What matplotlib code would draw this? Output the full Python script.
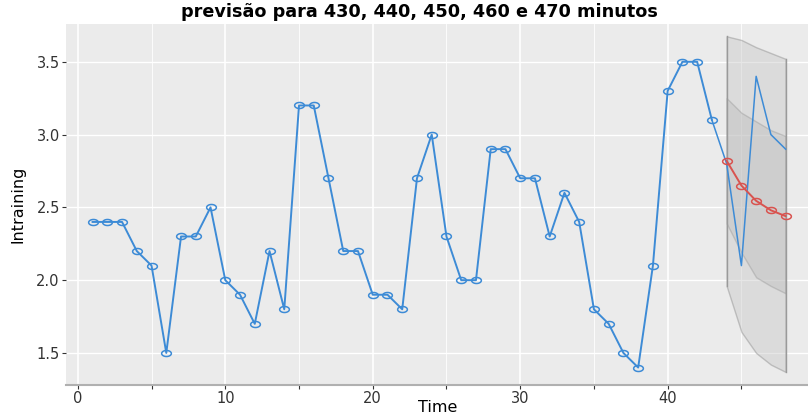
import numpy as np
import matplotlib
matplotlib.use("Agg")
import matplotlib.pyplot as plt
from matplotlib.path import Path

# ---- data ----
t_train = list(range(1, 44))
y_train = [2.4, 2.4, 2.4, 2.2, 2.1, 1.5, 2.3, 2.3, 2.5, 2.0,
           1.9, 1.7, 2.2, 1.8, 3.2, 3.2, 2.7, 2.2, 2.2, 1.9,
           1.9, 1.8, 2.7, 3.0, 2.3, 2.0, 2.0, 2.9, 2.9, 2.7,
           2.7, 2.3, 2.6, 2.4, 1.8, 1.7, 1.5, 1.4, 2.1, 3.3,
           3.5, 3.5, 3.1]
t_test = [43, 44, 45, 46, 47, 48]
y_test = [3.1, 2.8, 2.1, 3.4, 3.0, 2.9]
t_fc = [44, 45, 46, 47, 48]
y_fc = [2.82, 2.65, 2.545, 2.48, 2.44]
lo80 = [2.39, 2.19, 2.02, 1.96, 1.91]
hi80 = [3.25, 3.15, 3.09, 3.03, 2.99]
lo95 = [1.96, 1.645, 1.50, 1.42, 1.37]
hi95 = [3.675, 3.65, 3.60, 3.56, 3.52]
xticks = [0, 10, 20, 30, 40]
yticks = [1.5, 2.0, 2.5, 3.0, 3.5]

blue = '#3d8bd6'
red = '#d9534f'

# ellipse marker (wider than tall)
th = np.linspace(0, 2 * np.pi, 40)
ell = Path(np.column_stack([np.cos(th), 0.62 * np.sin(th)]), closed=True)

fig = plt.figure(figsize=(8.08, 4.15), dpi=100)
ax = fig.add_axes([0.0817, 0.0723, 0.918, 0.870])
ax.set_facecolor('#ebebeb')

ax.set_xlim(-0.8, 49.5)
ax.set_ylim(1.28, 3.76)

# grid
for x in [5, 15, 25, 35, 45]:
    ax.axvline(x, color='white', lw=0.6, zorder=0)
for x in xticks:
    ax.axvline(x, color='white', lw=1.2, zorder=0)
for y in yticks:
    ax.axhline(y, color='white', lw=1.0, zorder=0)

# bands
ax.fill_between(t_fc, lo95, hi95, color='#c8c8c8', alpha=0.45, lw=1.0,
                edgecolor='#8c8c8c', zorder=1)
ax.fill_between(t_fc, lo80, hi80, color='#b8b8b8', alpha=0.35, lw=1.0,
                edgecolor='#8c8c8c', zorder=1)
ax.plot([t_fc[0], t_fc[0]], [lo95[0], hi95[0]], color='#9a9a9a', lw=1.0, zorder=1)
ax.plot([t_fc[-1], t_fc[-1]], [lo95[-1], hi95[-1]], color='#9a9a9a', lw=1.0, zorder=1)

# lines
ax.plot(t_test, y_test, color=blue, lw=1.1, zorder=2)
ax.plot(t_train, y_train, color=blue, lw=1.4, marker=ell, markersize=7,
        markerfacecolor='none', markeredgecolor=blue, markeredgewidth=1.1, zorder=3)
ax.plot(t_fc, y_fc, color=red, lw=1.4, marker=ell, markersize=7,
        markerfacecolor='none', markeredgecolor=red, markeredgewidth=1.1, zorder=4)

# axes styling
for s in ['top', 'right', 'left']:
    ax.spines[s].set_visible(False)
ax.spines['bottom'].set_color('#b0b0b0')
ax.spines['bottom'].set_linewidth(1.5)

ax.set_xticks([0, 5, 10, 15, 20, 25, 30, 35, 40, 45])
ax.set_xticklabels(['0', '', '10', '', '20', '', '30', '', '40', ''])
ax.set_yticks(yticks)
ax.set_yticklabels(['1.5', '2.0', '2.5', '3.0', '3.5'])
ax.tick_params(axis='both', colors='#333333', labelsize=10.5, length=3, width=0.8,
               labelcolor='#333333', pad=1.5)

fig.text(0.542, 1 - 407 / 415, 'Time', ha='center', va='center', fontsize=11.5)
ax.set_ylabel('lntraining', fontsize=11.5, family=['Liberation Sans Narrow', 'DejaVu Sans'],
              labelpad=8)
fig.text(0.519, 0.972, 'previsão para 430, 440, 450, 460 e 470 minutos',
         ha='center', va='center', fontsize=12.7, fontweight='bold')

fig.savefig('out.png', dpi=100)
